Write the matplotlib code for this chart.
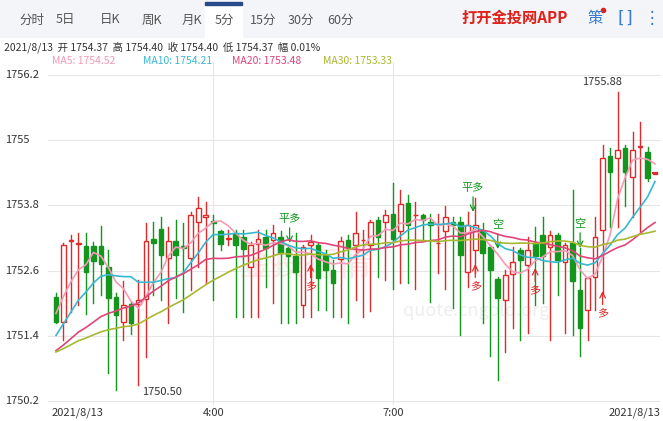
import matplotlib
matplotlib.use("Agg")
import matplotlib.pyplot as plt
import numpy as np
from matplotlib.patches import Rectangle

plt.rcParams['font.family'] = ['Noto Sans CJK SC', 'DejaVu Sans']

# OHLC of 5-minute candles
opens = [1752.12,1751.66,1753.15,1753.09,1753.05,1753.05,1753.05,1752.67,1752.11,1751.66,
         1751.99,1751.98,1752.07,1753.19,1753.36,1752.84,1753.15,1753.06,1752.84,1753.50,
         1753.58,1753.52,1753.33,1753.19,1753.28,1753.22,1752.67,1753.09,1753.22,1753.16,
         1753.21,1753.01,1752.86,1751.97,1753.08,1753.07,1752.89,1752.61,1752.82,1753.16,
         1753.07,1753.16,1753.07,1753.54,1753.50,1753.65,1753.32,1753.84,1753.62,1753.62,
         1753.50,1753.10,1753.32,1753.50,1753.50,1752.58,1752.98,1753.32,1753.04,1752.44,
         1752.06,1752.54,1752.98,1752.70,1753.10,1753.25,1753.04,1753.25,1752.76,1753.10,
         1752.24,1751.87,1752.48,1753.35,1754.70,1754.67,1754.85,1754.33,1754.88,1754.79,1754.37]
closes = [1751.66,1753.07,1753.15,1753.09,1752.58,1752.78,1752.73,1752.09,1751.78,1751.97,
          1751.63,1752.06,1753.14,1753.10,1752.89,1753.14,1752.89,1753.01,1753.63,1753.76,
          1753.62,1753.47,1753.09,1753.19,1753.07,1752.99,1753.07,1753.19,1753.01,1753.30,
          1752.93,1752.86,1752.58,1753.04,1753.12,1752.46,1752.61,1752.37,1753.14,1753.04,
          1753.30,1753.16,1753.50,1753.22,1753.62,1753.19,1753.83,1753.44,1753.62,1753.53,
          1753.44,1753.10,1753.59,1753.44,1752.89,1753.44,1753.44,1752.92,1752.61,1752.09,
          1752.52,1752.75,1752.80,1752.98,1752.86,1752.86,1753.25,1752.80,1753.07,1752.40,
          1751.54,1752.46,1753.21,1754.67,1754.42,1754.82,1754.42,1754.82,1754.88,1754.30,1754.40]
highs = [1752.18,1753.11,1753.25,1753.29,1753.30,1753.13,1753.42,1752.98,1752.18,1752.40,
         1752.03,1752.43,1753.47,1753.50,1753.59,1753.41,1753.53,1753.47,1753.68,1753.95,
         1753.87,1753.62,1753.35,1753.35,1753.35,1753.35,1753.13,1753.35,1753.35,1753.44,
         1753.32,1753.07,1753.29,1753.07,1753.25,1753.10,1752.98,1752.80,1753.22,1753.25,
         1753.68,1753.35,1753.53,1753.59,1753.71,1754.21,1754.08,1753.99,1753.87,1753.65,
         1753.65,1753.65,1753.78,1753.59,1753.59,1753.68,1753.93,1753.47,1753.07,1752.49,
         1752.61,1753.04,1753.01,1753.22,1753.41,1753.59,1753.32,1753.29,1753.10,1754.08,
         1753.01,1752.49,1753.59,1754.91,1754.85,1755.88,1754.91,1755.16,1755.34,1754.88,1754.40]
lows = [1751.63,1751.32,1751.84,1751.97,1751.81,1752.00,1752.15,1750.71,1750.40,1751.33,
        1751.44,1750.50,1751.01,1752.15,1752.06,1751.63,1752.09,1751.84,1752.24,1752.66,
        1752.37,1752.06,1752.98,1753.07,1751.75,1751.75,1751.75,1751.75,1752.30,1752.00,
        1751.64,1751.63,1751.63,1751.75,1751.75,1751.87,1751.87,1751.75,1751.75,1751.63,
        1752.06,1751.75,1751.85,1752.49,1752.43,1752.27,1752.37,1752.37,1752.27,1753.19,
        1752.03,1752.55,1752.27,1751.91,1751.41,1752.30,1752.55,1751.63,1751.02,1750.59,
        1751.11,1751.54,1751.32,1751.45,1751.97,1752.00,1751.32,1752.15,1751.45,1751.41,
        1751.02,1751.32,1751.87,1752.18,1753.41,1753.41,1753.78,1753.59,1753.32,1754.24,1754.37]
# closes before the visible window (used for moving averages)
prior_closes = [1751.2,1751.0,1750.9,1751.1,1751.0,1751.1,1750.9,1751.0,1751.1,1751.2,
                1751.0,1750.8,1750.7,1750.9,1750.8,1750.7,1750.9,1750.9,1750.9,1750.9,
                1750.9,1751.0,1750.9,1751.1,1751.1,1751.5,1751.8,1752.0,1752.1]
ma_periods = [5, 10, 20, 30]
ma_colors = ['#f29bb6', '#38b8d0', '#e0457a', '#a8b830']
y_ticks = [1750.2, 1751.4, 1752.6, 1753.8, 1755.0, 1756.2]
y_tick_labels = ['1750.2', '1751.4', '1752.6', '1753.8', '1755', '1756.2']
time_ticks = [21, 45]
time_labels = ['4:00', '7:00']
tabs = ['分时', '5日', '日K', '周K', '月K', '5分', '15分', '30分', '60分']

RED = '#e02a2a'
GREEN = '#14961e'
W, H = 663, 421
fig = plt.figure(figsize=(W/100, H/100), dpi=100)
fig.patch.set_facecolor('white')

# header bar
hax = fig.add_axes([0, 1-38/H, 1, 38/H])
hax.set_xlim(0, W); hax.set_ylim(38, 0); hax.axis('off')
hax.add_patch(Rectangle((0, 0), W, 38, color='#f3f5f8'))
hax.add_patch(Rectangle((205, 2), 37, 36, color='white'))
hax.add_patch(Rectangle((205, 2), 37, 2.5, color='#2a4a8a'))
tab_x = [32, 65, 110, 152, 192, 224, 263, 301, 340]
for tx, t in zip(tab_x, tabs):
    hax.text(tx, 20, t, ha='center', va='center', fontsize=9, color='#555555')
hax.text(515, 18, '打开金投网APP', ha='center', va='center', fontsize=11, color='#e0201a', fontweight='bold')
hax.text(595, 19, '策', ha='center', va='center', fontsize=11, color='#3a7ad0')
hax.plot([603], [10], 'o', color='#e0201a', ms=3)
hax.text(625, 18, '[ ]', ha='center', va='center', fontsize=11, color='#3a7ad0', fontweight='bold')
hax.text(652, 18, '⋮', ha='center', va='center', fontsize=12, color='#3a7ad0', family=['DejaVu Sans'])

fig.text(4/W, 1-47/H, '2021/8/13  开 1754.37  高 1754.40  收 1754.40  低 1754.37  幅 0.01%',
         fontsize=7.5, color='#333333', va='center')
ma_txt = ['MA5: 1754.52', 'MA10: 1754.21', 'MA20: 1753.48', 'MA30: 1753.33']
for xx, t, c in zip([52, 143, 232, 323], ma_txt, ma_colors):
    fig.text(xx/W, 1-61/H, t, fontsize=7.5, color=c, va='center')

# main chart
top, bot, left, right = 62, 405, 48, 660
ax = fig.add_axes([left/W, 1-bot/H, (right-left)/W, (bot-top)/H])
n = len(opens)
spacing = (655-56)/(n-1)
ax.set_xlim(-(56-left)/spacing, (n-1)+(right-655)/spacing)
ax.set_ylim(1756.2-(bot-75)/54.33, 1756.2+(75-top)/54.33)
for s in ax.spines.values():
    s.set_visible(False)
ax.set_yticks([]); ax.set_xticks([])
for yt in y_ticks:
    ax.axhline(yt, color='#e6e6e6', lw=0.8, zorder=0)
for xt in time_ticks:
    ax.axvline(xt, color='#e6e6e6', lw=0.8, zorder=0)

ax.text(0.7, 0.26, 'quote.cngold.org', transform=ax.transAxes, fontsize=13, color='#eeeeee',
        ha='center', zorder=0)
ax.text(0.42, 0.38, '金投行情', transform=ax.transAxes, fontsize=24, color='#fbe9e9',
        ha='center', zorder=0, rotation=0)

bw = 0.62
for i in range(n):
    o, c, h, l = opens[i], closes[i], highs[i], lows[i]
    up = c >= o
    col = RED if up else GREEN
    lo, hi = min(o, c), max(o, c)
    ax.plot([i, i], [hi, h], color=col, lw=1, zorder=2)
    ax.plot([i, i], [l, lo], color=col, lw=1, zorder=2)
    hgt = max(hi-lo, 0.012)
    if up:
        ax.add_patch(Rectangle((i-bw/2, lo), bw, hgt, facecolor='white', edgecolor=col, lw=1, zorder=3))
    else:
        ax.add_patch(Rectangle((i-bw/2, lo), bw, hgt, facecolor=col, edgecolor=col, lw=1, zorder=3))

allc = np.array(prior_closes + closes)
k = len(prior_closes)
for p, col in zip(ma_periods, ma_colors):
    ma = np.array([allc[j-p+1:j+1].mean() for j in range(k, k+n)])
    ax.plot(np.arange(n), ma, color=col, lw=1.2, zorder=4)

ax.text(75.6, 1755.88+0.1, '1755.88', fontsize=8, color='#333333', ha='right', va='bottom')
ax.text(11.5, 1750.50-0.05, '1750.50', fontsize=8, color='#333333', ha='left', va='top')
ax.plot([n-1-0.3, n-1+0.3], [closes[-1]]*2, color=RED, lw=1.5, zorder=5)

def sig(idx, ytext, txt, col, down):
    if down:
        ax.text(idx, ytext, txt, ha='center', va='bottom', fontsize=8, color=col, zorder=6)
        ax.annotate('', xy=(idx, ytext-0.4), xytext=(idx, ytext-0.02),
                    arrowprops=dict(arrowstyle='->', color=col, lw=0.9))
    else:
        ax.annotate('', xy=(idx, ytext+0.4), xytext=(idx, ytext+0.05),
                    arrowprops=dict(arrowstyle='->', color=col, lw=0.9))
        ax.text(idx, ytext+0.03, txt, ha='center', va='top', fontsize=8, color=col, zorder=6)

def yp(y):
    return 1756.2-(y-75)/54.33

sig(31.2, yp(224), '平多', GREEN, True)
sig(34, yp(283), '多', RED, False)
sig(55.7, yp(193), '平多', GREEN, True)
sig(59, yp(230), '空', GREEN, True)
sig(56, yp(283), '多', RED, False)
sig(64, yp(287), '多', RED, False)
sig(70, yp(229), '空', GREEN, True)
sig(73, yp(310), '多', RED, False)

# axis labels
for yt, lab in zip(y_ticks, y_tick_labels):
    ypix = 75 + (1756.2-yt)*54.33
    fig.text(5/W, 1-ypix/H, lab, fontsize=8, color='#333333', va='center')
for xt, lab in zip(time_ticks, time_labels):
    xpix = 56 + xt*spacing
    fig.text(xpix/W, 1-413/H, lab, fontsize=8, color='#333333', va='center', ha='center')
fig.text(52/W, 1-413/H, '2021/8/13', fontsize=8, color='#333333', va='center', ha='left')
fig.text(660/W, 1-413/H, '2021/8/13', fontsize=8, color='#333333', va='center', ha='right')

fig.savefig('out.png', dpi=100)
